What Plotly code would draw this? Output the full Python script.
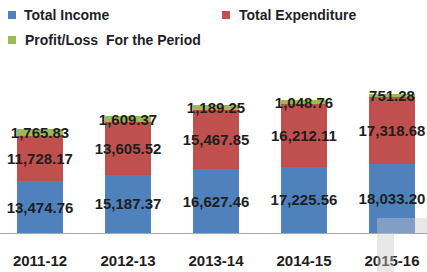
import plotly.graph_objects as go

categories = ["2011-12", "2012-13", "2013-14", "2014-15", "2015-16"]
total_income = [13474.76, 15187.37, 16627.46, 17225.56, 18033.20]
total_expenditure = [11728.17, 13605.52, 15467.85, 16212.11, 17318.68]
profit_loss = [1765.83, 1609.37, 1189.25, 1048.76, 751.28]

series_names = ["Total Income", "Total Expenditure", "Profit/Loss\u00a0 For the Period"]
colors = ["#4F81BD", "#C0504D", "#9BBB59"]

W, H = 427, 272
T, B = 55, 39
plot_h = H - T - B
axis_y = H - B

def px_x(x):
    return x / W

def px_y(y):
    return (axis_y - y) / plot_h

label_font = dict(family="Liberation Sans, Arial, sans-serif", size=15, color="#1e1e1e", weight="bold")

fig = go.Figure()
for name, vals, col in zip(series_names, [total_income, total_expenditure, profit_loss], colors):
    fig.add_trace(go.Bar(
        x=list(range(len(categories))),
        y=vals,
        name=name,
        marker=dict(color=col, line=dict(width=0)),
        width=0.523,
        text=[f"{v:,.2f}" for v in vals],
        textposition="inside",
        insidetextanchor="middle",
        constraintext="none",
        textangle=0,
        textfont=label_font,
        cliponaxis=False,
        showlegend=False,
        hoverinfo="skip",
    ))

# custom legend
legend_items = [
    (8, 15, 22),
    (222, 15, 237),
    (8, 40, 23),
]
shapes = []
annotations = []
for (mx, my, tx), name, col in zip(legend_items, series_names, colors):
    shapes.append(dict(type="rect", xref="paper", yref="paper",
                       x0=px_x(mx), x1=px_x(mx + 8), y0=px_y(my - 4), y1=px_y(my + 4),
                       fillcolor=col, line=dict(width=0)))
    annotations.append(dict(xref="paper", yref="paper", x=px_x(tx), y=px_y(my),
                            xanchor="left", yanchor="middle", showarrow=False,
                            text=name,
                            font=dict(family="Liberation Sans, Arial, sans-serif", size=14,
                                      color="#1f1f2a", weight="bold")))

# faint grey overlay in lower-right corner
shapes.append(dict(type="rect", xref="paper", yref="paper", layer="above",
                   x0=px_x(377), x1=px_x(427), y0=px_y(233), y1=px_y(218),
                   fillcolor="rgba(200,200,200,0.42)", line=dict(width=0)))
shapes.append(dict(type="rect", xref="paper", yref="paper", layer="above",
                   x0=px_x(377), x1=px_x(394), y0=px_y(272), y1=px_y(233),
                   fillcolor="rgba(200,200,200,0.42)", line=dict(width=0)))

fig.update_layout(
    width=W, height=H,
    margin=dict(l=0, r=0, t=T, b=B, pad=0),
    barmode="stack",
    paper_bgcolor="white",
    plot_bgcolor="white",
    showlegend=False,
    hovermode=False,
    shapes=shapes,
    annotations=annotations,
    xaxis=dict(
        tickmode="array",
        tickvals=list(range(len(categories))),
        ticktext=categories,
        range=[-0.4545, 4.398],
        showline=True, linecolor="#A6A6A6", linewidth=1,
        showgrid=False, zeroline=False,
        ticks="", ticklabelstandoff=14,
        tickfont=dict(family="Liberation Sans, Arial, sans-serif", size=15, color="#1e1e1e", weight="bold"),
        fixedrange=True,
    ),
    yaxis=dict(range=[0, 46300], visible=False, showgrid=False, zeroline=False, fixedrange=True),
)

fig.write_html("out.html", config={"displayModeBar": False},
               post_script="document.body.style.margin='0';document.body.style.overflow='hidden';")
